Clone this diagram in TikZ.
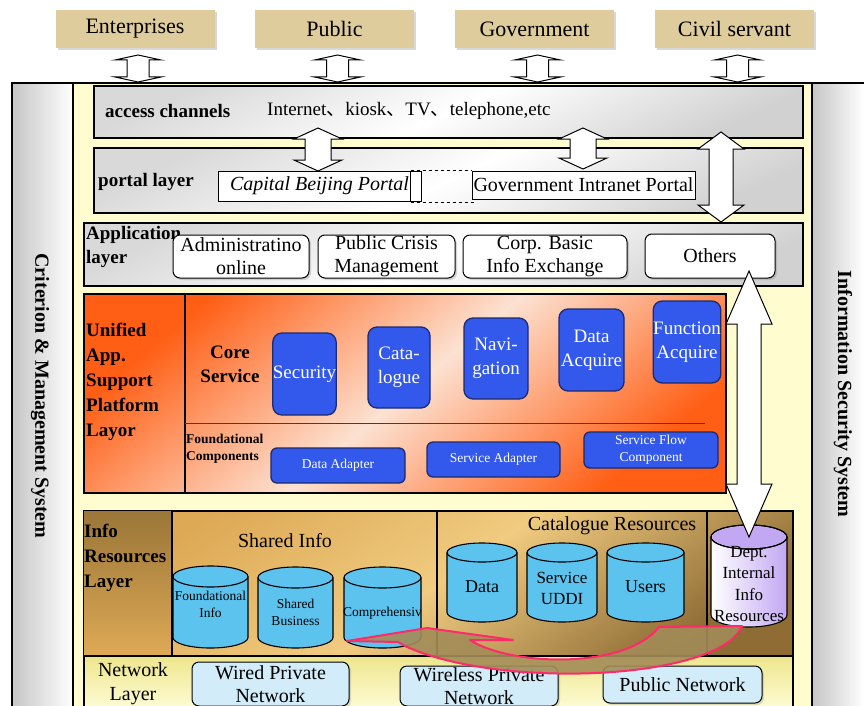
\documentclass[tikz,border=0pt]{standalone}
\usepackage{fontspec}
\setmainfont{Liberation Serif}
\newfontfamily\cjk{Noto Sans CJK SC}
\usetikzlibrary{shadows}

\definecolor{tabtan}{HTML}{DFCC9C}
\definecolor{cream}{HTML}{FFFDCF}
\definecolor{coreblue}{HTML}{3358EC}
\definecolor{bluedark}{HTML}{1B2B70}
\definecolor{skyblue}{HTML}{5CC3EE}
\definecolor{netblue}{HTML}{D2ECFA}
\definecolor{hotpink}{HTML}{FF2A6A}
\definecolor{arrowtan}{HTML}{A38C58}
\definecolor{lavender}{HTML}{C2A8F2}
\definecolor{orangedeep}{HTML}{FF5E14}
\definecolor{peach}{HTML}{FCE2D2}
\definecolor{goldtop}{HTML}{DDA955}
\definecolor{goldmid}{HTML}{F0CB80}
\definecolor{goldlow}{HTML}{8E6C34}
\definecolor{brownleft}{HTML}{9A7638}
\definecolor{netyellow}{HTML}{EEE68C}

\newcommand\fsz[2]{\fontsize{#1pt}{#2pt}\selectfont}

% vertical double block arrow: centre x, top tip y, bottom tip y, head half width, body half width, head length
\newcommand\vdarrow[6]{%
  \draw[blockarrow] (#1,#2) -- (#1+#4,#2+#6) -- (#1+#5,#2+#6) -- (#1+#5,#3-#6)
    -- (#1+#4,#3-#6) -- (#1,#3) -- (#1-#4,#3-#6) -- (#1-#5,#3-#6)
    -- (#1-#5,#2+#6) -- (#1-#4,#2+#6) -- cycle;}

% database cylinder: centre x, top y, bottom y, x radius, y radius, fill options
\newcommand\dbcyl[6]{%
  \path[draw=black, line width=1.1pt, #6] (#1-#4,#2+#5) -- (#1-#4,#3-#5)
    arc[start angle=180, end angle=360, x radius=#4pt, y radius=#5pt]
    -- (#1+#4,#2+#5)
    arc[start angle=0, end angle=180, x radius=#4pt, y radius=#5pt] -- cycle;
  \draw[line width=1.1pt] (#1-#4,#2+#5)
    arc[start angle=180, end angle=360, x radius=#4pt, y radius=#5pt];}

\begin{document}
\begin{tikzpicture}[x=1pt, y=-1pt,
  layerbox/.style={draw=black, line width=2pt, inner sep=0pt, anchor=north west},
  grayfill/.style={top color=gray!30, bottom color=gray!36, middle color=white, shading angle=25},
  tabbox/.style={fill=tabtan, inner sep=0pt, minimum width=159pt, minimum height=38pt,
    drop shadow={opacity=0.3, shadow xshift=2pt, shadow yshift=-2pt}, font=\fsz{22}{26}},
  portalbox/.style={draw, fill=white, line width=1pt, inner sep=0pt, font=\fsz{20}{24}},
  appbox/.style={draw, fill=white, rounded corners=7pt, line width=1pt, inner sep=0pt,
    align=center, font=\fsz{20}{23},
    drop shadow={opacity=0.3, shadow xshift=2pt, shadow yshift=-2pt}},
  corebox/.style={draw=bluedark, fill=coreblue, rounded corners=9pt, line width=1.3pt,
    inner sep=0pt, align=center, text=white, font=\fsz{19}{24}},
  adapter/.style={corebox, rounded corners=6pt, font=\fsz{13.5}{17}},
  netbox/.style={draw, fill=netblue, rounded corners=7pt, line width=1pt, inner sep=0pt,
    align=center, font=\fsz{20}{23},
    drop shadow={opacity=0.25, shadow xshift=2pt, shadow yshift=-2pt}},
  lbl/.style={inner sep=0pt, align=left},
  cyltext/.style={inner sep=0pt, align=center},
  blockarrow/.style={draw=black, fill=white, line width=1pt},
  divider/.style={line width=1.5pt}]

\useasboundingbox (0,0) rectangle (864,706);
\fill[white] (0,0) rectangle (864,706);

% ---- user groups
\node[tabbox] (ent) at (135,29)   {Enterprises};
\node[tabbox] (pub) at (334.5,29) {Public};
\node[tabbox] (gov) at (534.5,29) {Government};
\node[tabbox] (civ) at (734.5,29) {Civil servant};

% ---- outer frame with the two side systems
\fill[cream] (12,83) rectangle (864,712);
\shade[left color=gray!45, right color=white] (12,83) rectangle (73,712);
\shade[left color=gray!45, right color=white] (812,83) rectangle (864,712);
\draw[line width=2pt] (12,712) -- (12,83) -- (864,83);
\draw[line width=2pt] (73,83) -- (73,712);
\draw[line width=2pt] (812,83) -- (812,712);
\node[rotate=-90, font=\bfseries\fsz{20}{24}] (crit) at (40,396) {Criterion \& Management System};
\node[rotate=-90, font=\bfseries\fsz{20}{24}] (isec) at (843,394) {Information Security System};

% ---- access channels
\node[layerbox, grayfill, minimum width=709pt, minimum height=52pt] (acc) at (93,85) {};
\node[lbl, anchor=west, font=\bfseries\fsz{19}{22}] (accl) at (105,111) {access channels};
\node[lbl, anchor=west, font=\fsz{19}{22}] (acct) at (267,111)
  {Internet{\cjk 、}kiosk{\cjk 、}TV{\cjk 、}telephone,etc};

% ---- portal layer
\node[layerbox, grayfill, minimum width=709pt, minimum height=65pt] (por) at (93,147) {};
\node[lbl, anchor=west, font=\bfseries\fsz{19}{22}] (porl) at (98,182) {portal layer};
\node[portalbox, minimum width=203pt, minimum height=30pt, font=\itshape\fsz{20}{24}] (cbp) at (319.5,186) {Capital Beijing Portal};
\node[portalbox, minimum width=223pt, minimum height=28pt] (gip) at (583.5,185) {Government Intranet Portal};
\draw[line width=1pt] ([xshift=-11pt]cbp.north east) -- ([xshift=-11pt]cbp.south east);
\draw[dashed, line width=1pt] ([xshift=-11pt]cbp.north east) -- (gip.north west);
\draw[dashed, line width=1pt] ([xshift=-11pt,yshift=-1pt]cbp.south east) -- ([xshift=4pt,yshift=-3pt]gip.south west);

% ---- application layer
\node[layerbox, grayfill, minimum width=719pt, minimum height=63pt] (app) at (83,222) {};
\node[lbl, anchor=west, font=\bfseries\fsz{19}{24}] (appl) at (86,247) {Application\\layer};
\node[appbox, minimum width=136pt, minimum height=43pt] (adm) at (241,256.5) {Administratino\\online};
\node[appbox, minimum width=137pt, minimum height=43pt] (pcm) at (386.5,256.5) {Public Crisis\\Management};
\node[appbox, minimum width=164pt, minimum height=43pt] (cbi) at (545,256.5) {Corp. Basic\\Info Exchange};
\node[appbox, minimum width=130pt, minimum height=44pt] (oth) at (710,256) {Others};

% ---- unified application support platform
\node[layerbox, top color=orangedeep, bottom color=orangedeep, middle color=peach,
  shading angle=40, minimum width=642pt, minimum height=199pt] (uni) at (83,293) {};
\draw[divider] (185,293) -- (185,492);
\draw[line width=1pt, black!75] (185,423) -- (705,423);
\node[lbl, anchor=west, font=\bfseries\fsz{19}{25}] (unil) at (86,382)
  {Unified\\App.\\Support\\Platform\\Layor};
\node[cyltext, font=\bfseries\fsz{19}{24}] (core) at (230,364) {Core\\Service};
\node[corebox, minimum width=63pt, minimum height=82pt] (sec) at (304.5,374) {Security};
\node[corebox, minimum width=62pt, minimum height=81pt] (cat) at (399,367.5) {Cata-\\logue};
\node[corebox, minimum width=64pt, minimum height=81pt] (nav) at (496,358.5) {Navi-\\gation};
\node[corebox, minimum width=65pt, minimum height=82pt] (dac) at (591.5,350) {Data\\Acquire};
\node[corebox, minimum width=64pt, minimum height=82pt] (fac) at (687,342) {Function\\Acquire};
\node[lbl, anchor=west, font=\bfseries\fsz{13.5}{17}] (fndl) at (186,449) {Foundational\\Components};
\node[adapter, minimum width=134pt, minimum height=35pt] (dad) at (338,465.5) {Data Adapter};
\node[adapter, minimum width=133pt, minimum height=35pt] (sad) at (493.5,459.5) {Service Adapter};
\node[adapter, minimum width=134pt, minimum height=36pt] (sfc) at (651,450) {Service Flow\\Component};

% ---- info resources layer
\node[layerbox, top color=goldtop, bottom color=goldlow, middle color=goldmid,
  shading angle=35, minimum width=709pt, minimum height=145pt] (inf) at (83,510) {};
\shade[top color=brownleft, bottom color=goldtop] (84,511) rectangle (172,654);
\draw[divider] (172,510) -- (172,655);
\draw[divider] (437,510) -- (437,655);
\draw[divider] (707,510) -- (707,655);
\node[lbl, anchor=west, font=\bfseries\fsz{19}{25}] (infl) at (84,558) {Info\\Resources\\Layer};
\node[cyltext, font=\fsz{20}{24}] (shl) at (285,541) {Shared Info};
\node[cyltext, font=\fsz{20}{24}] (catl) at (612,526) {Catalogue Resources};

\dbcyl{210.5}{566}{648}{37.5}{10.5}{fill=skyblue}
\dbcyl{295.5}{567}{648}{37.5}{10.5}{fill=skyblue}
\dbcyl{382.5}{567}{648}{38.5}{10.5}{fill=skyblue}
\dbcyl{482}{543}{622}{35}{9.5}{fill=skyblue}
\dbcyl{562}{543}{622}{35}{9.5}{fill=skyblue}
\dbcyl{645.5}{543}{622}{38.5}{9.5}{fill=skyblue}
\dbcyl{749}{525}{627}{38}{12}{left color=white, right color=lavender}
\fill[lavender] (749,537) ellipse[x radius=37pt, y radius=11pt];
\draw[line width=1.1pt] (749,537) ellipse[x radius=38pt, y radius=12pt];

\node[cyltext, font=\fsz{13.5}{17}] (fdi) at (210.5,604) {Foundational\\Info};
\node[cyltext, font=\fsz{13.5}{17}] (shb) at (295.5,612) {Shared\\Business};
\node[cyltext, font=\fsz{13.5}{17}] (cmp) at (382.5,613) {Comprehensiv};
\node[cyltext, font=\fsz{18}{21}] (dat) at (482,587) {Data};
\node[cyltext, font=\fsz{17}{21}] (uddi) at (562,588) {Service\\UDDI};
\node[cyltext, font=\fsz{18}{21}] (usr) at (645.5,587) {Users};
\node[cyltext, font=\fsz{17}{21.5}] (dept) at (749,584) {Dept.\\Internal\\Info\\Resources};

% ---- network layer
\node[layerbox, top color=netyellow, bottom color=yellow!12!white, minimum width=709pt, minimum height=60pt] (net) at (83,655) {};
\node[cyltext, font=\fsz{20}{24}] (netl) at (133,684) {Network\\Layer};
\node[netbox, minimum width=157pt, minimum height=44pt] (wpn) at (270.5,684) {Wired Private\\Network};
\node[netbox, minimum width=158pt, minimum height=40pt] (wlp) at (479,686) {Wireless Private\\Network};
\node[netbox, minimum width=159pt, minimum height=37pt] (pbn) at (682.5,684.5) {Public Network};

% ---- exchange arrows
\vdarrow{138}{55}{82}{23}{11}{5}
\vdarrow{337.5}{55}{82}{23}{11}{5}
\vdarrow{537.5}{55}{82}{23}{11}{5}
\vdarrow{737.5}{55}{82}{23}{11}{5}
\vdarrow{318}{128}{171}{24}{13}{11}
\vdarrow{583}{128}{169}{24}{13}{11}
\vdarrow{721}{132}{222}{23}{12}{17}
\vdarrow{749}{271}{537}{23}{12}{53}

% ---- curved feedback arrow from departmental resources to shared info
\filldraw[draw=hotpink, line width=2pt, fill=arrowtan, fill opacity=0.9, line join=round]
  (347,641) -- (427,628) -- (513,640) -- (470,640)
  .. controls (510,666) and (625,670) .. (659,627) -- (742,626)
  .. controls (720,680) and (500,690) .. (405,646) -- (398,642) -- cycle;

\end{tikzpicture}
\end{document}
